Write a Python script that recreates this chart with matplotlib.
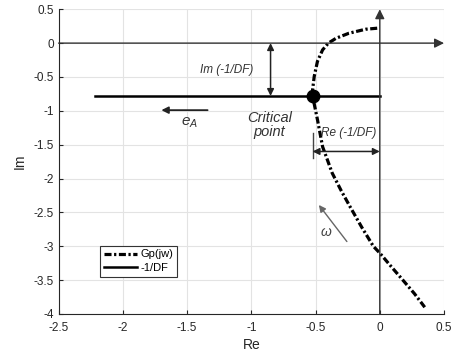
import numpy as np
import matplotlib.pyplot as plt

plt.rcParams['font.family'] = ['Liberation Sans', 'DejaVu Sans']
plt.rcParams['axes.unicode_minus'] = False
plt.rcParams['mathtext.fontset'] = 'custom'
plt.rcParams['mathtext.it'] = 'Liberation Sans:italic'
plt.rcParams['mathtext.rm'] = 'Liberation Sans'

# Nyquist curve of the plant Gp(jw)
gp_re = [-0.02, -0.11, -0.24, -0.34, -0.40, -0.445, -0.485, -0.51, -0.523, -0.523,
         -0.51, -0.485, -0.445, -0.37, -0.30, -0.23, -0.14, -0.05, 0.0, 0.08,
         0.18, 0.27, 0.35]
gp_im = [0.22, 0.205, 0.146, 0.072, 0.0, -0.10, -0.27, -0.49, -0.69, -0.78,
         -0.90, -1.13, -1.53, -1.92, -2.18, -2.42, -2.72, -3.0, -3.10, -3.28,
         -3.5, -3.70, -3.90]

# -1/DF locus (horizontal line) and the intersection
df_re = [-2.22, 0.0]
df_im = [-0.78, -0.78]
crit = (-0.523, -0.78)

xticks = [-2.5, -2, -1.5, -1, -0.5, 0, 0.5]
xticklabels = ['-2.5', '-2', '-1.5', '-1', '-0.5', '0', '0.5']
yticks = [0.5, 0, -0.5, -1, -1.5, -2, -2.5, -3, -3.5, -4]
yticklabels = ['0.5', '0', '-0.5', '-1', '-1.5', '-2', '-2.5', '-3', '-3.5', '-4']

fig = plt.figure(figsize=(4.54, 3.56), dpi=100)
ax = fig.add_axes([0.129, 0.118, 0.849, 0.856])

ax.set_xlim(-2.5, 0.5)
ax.set_ylim(-4, 0.5)
ax.set_xticks(xticks)
ax.set_xticklabels(xticklabels)
ax.set_yticks(yticks)
ax.set_yticklabels(yticklabels)
ax.tick_params(direction='in', length=3, labelsize=8.5, colors='#262626')
ax.tick_params(axis='x', pad=6)
ax.grid(True, color='#e3e3e3', linewidth=0.8)
ax.set_axisbelow(True)
for s in ['top', 'right']:
    ax.spines[s].set_visible(False)
for s in ['left', 'bottom']:
    ax.spines[s].set_color('#262626')
    ax.spines[s].set_linewidth(0.8)

ax.set_xlabel('Re', fontsize=10, color='#262626', labelpad=3)
ax.set_ylabel('Im', fontsize=10, color='#262626', labelpad=5)

# coordinate axes with arrow heads
ax.annotate('', xy=(0.5, 0), xytext=(-2.5, 0),
            arrowprops=dict(arrowstyle='-|>', color='#333333', lw=1.0, mutation_scale=14,
                            shrinkA=0, shrinkB=0))
ax.annotate('', xy=(0, 0.5), xytext=(0, -4),
            arrowprops=dict(arrowstyle='-|>', color='#333333', lw=1.0, mutation_scale=14,
                            shrinkA=0, shrinkB=0))

gp_line, = ax.plot(gp_re, gp_im, color='black', lw=2.3, ls=(0, (2.2, 0.8, 0.7, 0.8)),
                   label='Gp(jw)')
df_line, = ax.plot(df_re, df_im, color='black', lw=1.8, label='-1/DF')
ax.plot(*crit, 'o', color='black', markersize=9)

# Im(-1/DF) dimension arrow
ax.annotate('', xy=(-0.85, -0.78), xytext=(-0.85, 0),
            arrowprops=dict(arrowstyle='<|-|>', color='#222222', lw=1.1, mutation_scale=10,
                            shrinkA=0, shrinkB=0))
ax.text(-1.19, -0.40, 'Im (-1/DF)', fontsize=8.5, style='italic', color='#333333',
        ha='center', va='center')

# Re(-1/DF) dimension arrow
ax.plot([crit[0], crit[0]], [-1.33, -1.70], color='#444444', lw=1.0)
ax.annotate('', xy=(0, -1.60), xytext=(crit[0], -1.60),
            arrowprops=dict(arrowstyle='<|-|>', color='#222222', lw=1.1, mutation_scale=10,
                            shrinkA=0, shrinkB=0))
ax.text(-0.24, -1.33, 'Re (-1/DF)', fontsize=8.5, style='italic', color='#333333',
        ha='center', va='center')

ax.text(-0.86, -1.21, 'Critical\npoint', fontsize=10.5, style='italic', color='#333333',
        ha='center', va='center', linespacing=1.05)

# direction of increasing amplitude
ax.annotate('', xy=(-1.70, -0.99), xytext=(-1.34, -0.99),
            arrowprops=dict(arrowstyle='-|>', color='#222222', lw=1.3, mutation_scale=10,
                            shrinkA=0, shrinkB=0))
ax.text(-1.48, -1.17, '$e_A$', fontsize=11, color='#333333', ha='center', va='center')

# direction of increasing frequency
ax.annotate('', xy=(-0.474, -2.39), xytext=(-0.256, -2.93),
            arrowprops=dict(arrowstyle='-|>', color='#666666', lw=1.0, mutation_scale=10,
                            shrinkA=0, shrinkB=0))
ax.text(-0.42, -2.79, r'$\omega$', fontsize=10, color='#444444', ha='center', va='center')

leg = ax.legend(handles=[gp_line, df_line], loc='upper left',
                bbox_to_anchor=(-2.18, -2.99), bbox_transform=ax.transData,
                fontsize=8, fancybox=False, framealpha=1, edgecolor='#333333',
                handlelength=3.0, handletextpad=0.3, borderpad=0.35, labelspacing=0.3,
                borderaxespad=0)
leg.get_frame().set_linewidth(0.8)

fig.savefig('out.png', dpi=100)
